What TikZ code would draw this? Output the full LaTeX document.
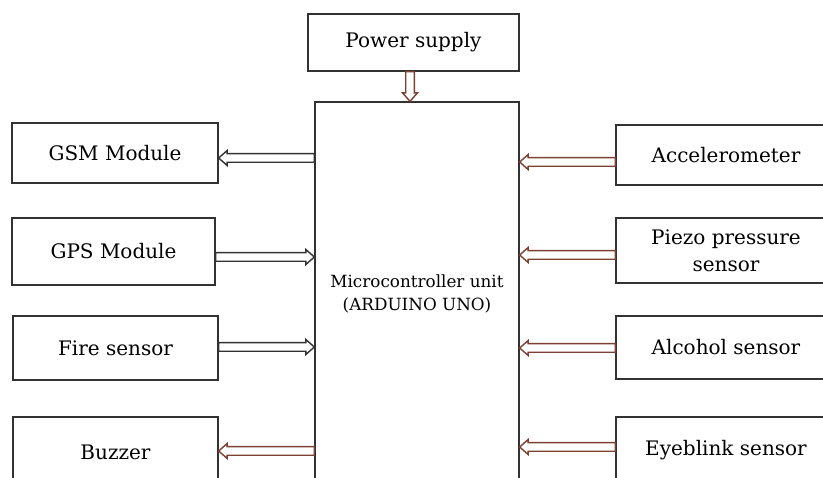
\documentclass[tikz,border=0pt]{standalone}
\usepackage{fontspec}
\setmainfont{DejaVu Serif}
\usetikzlibrary{calc}
\definecolor{edgegray}{RGB}{50,50,50}
\definecolor{arrbrown}{RGB}{125,65,52}
\begin{document}
\begin{tikzpicture}[x=1pt,y=-1pt,
  box/.style={draw=edgegray,line width=1.3pt,inner sep=0pt,align=center,
    font=\fontsize{20}{27}\selectfont},
  hollow/.style={line width=1.4pt,fill=white,line join=miter,
    to path={($(\tikztostart)!4.3pt!90:(\tikztotarget)$)
      -- ($($(\tikztotarget)!8.5pt!(\tikztostart)$)!4.3pt!90:(\tikztotarget)$)
      -- ($($(\tikztotarget)!8.5pt!(\tikztostart)$)!7.5pt!90:(\tikztotarget)$)
      -- (\tikztotarget)
      -- ($($(\tikztotarget)!8.5pt!(\tikztostart)$)!7.5pt!-90:(\tikztotarget)$)
      -- ($($(\tikztotarget)!8.5pt!(\tikztostart)$)!4.3pt!-90:(\tikztotarget)$)
      -- ($(\tikztostart)!4.3pt!-90:(\tikztotarget)$) -- cycle}},
  grayarr/.style={hollow,draw=edgegray},
  brownarr/.style={hollow,draw=arrbrown}]
\useasboundingbox (0,0) rectangle (823,478);
\begin{scope}
\clip (0,0) rectangle (823,478);
% boxes
\node[box,minimum width=211pt,minimum height=57pt] (power) at (413.5,42.5) {Power supply};
\node[box,minimum width=204pt,minimum height=440pt] (mcu) at (417,322) {};
\node[align=center,font=\fontsize{16.8}{23}\selectfont] (mcutext) at (417,294) {Microcontroller unit\\(ARDUINO UNO)};
\node[box,minimum width=206pt,minimum height=60pt] (gsm) at (115,153) {GSM Module};
\node[box,minimum width=203pt,minimum height=67pt] (gps) at (113.5,251.5) {GPS Module};
\node[box,minimum width=205pt,minimum height=64pt] (fire) at (115.5,348) {Fire sensor};
\node[box,minimum width=205pt,minimum height=70pt] (buzzer) at (115.5,452) {Buzzer};
\node[box,minimum width=220pt,minimum height=60pt] (acc) at (726,155) {Accelerometer};
\node[box,minimum width=220pt,minimum height=65pt] (piezo) at (726,250.5) {Piezo pressure\\sensor};
\node[box,minimum width=220pt,minimum height=63pt] (alcohol) at (726,347.5) {Alcohol sensor};
\node[box,minimum width=220pt,minimum height=66pt] (eye) at (726,450) {Eyeblink sensor};
\end{scope}
% anchor points
\coordinate (pwA) at ([xshift=-3.5pt]power.south);
\coordinate (gsmA) at ([yshift=-5pt]gsm.east);
\coordinate (gpsA) at ([yshift=-5.5pt]gps.east);
\coordinate (fireA) at ([yshift=1pt]fire.east);
\coordinate (buzA) at ([yshift=1pt]buzzer.east);
\coordinate (accA) at ([yshift=-7pt]acc.west);
\coordinate (piezoA) at ([yshift=-4.5pt]piezo.west);
\coordinate (alcA) at ([yshift=-0.5pt]alcohol.west);
\coordinate (eyeA) at ([yshift=3pt]eye.west);
% arrows
\draw[brownarr] (pwA) to (pwA |- mcu.north);
\draw[grayarr] (mcu.west |- gsmA) to (gsmA);
\draw[grayarr] (gpsA) to (mcu.west |- gpsA);
\draw[grayarr] (fireA) to (mcu.west |- fireA);
\draw[brownarr] (mcu.west |- buzA) to (buzA);
\draw[brownarr] (accA) to (mcu.east |- accA);
\draw[brownarr] (piezoA) to (mcu.east |- piezoA);
\draw[brownarr] (alcA) to (mcu.east |- alcA);
\draw[brownarr] (eyeA) to (mcu.east |- eyeA);
\end{tikzpicture}
\end{document}
